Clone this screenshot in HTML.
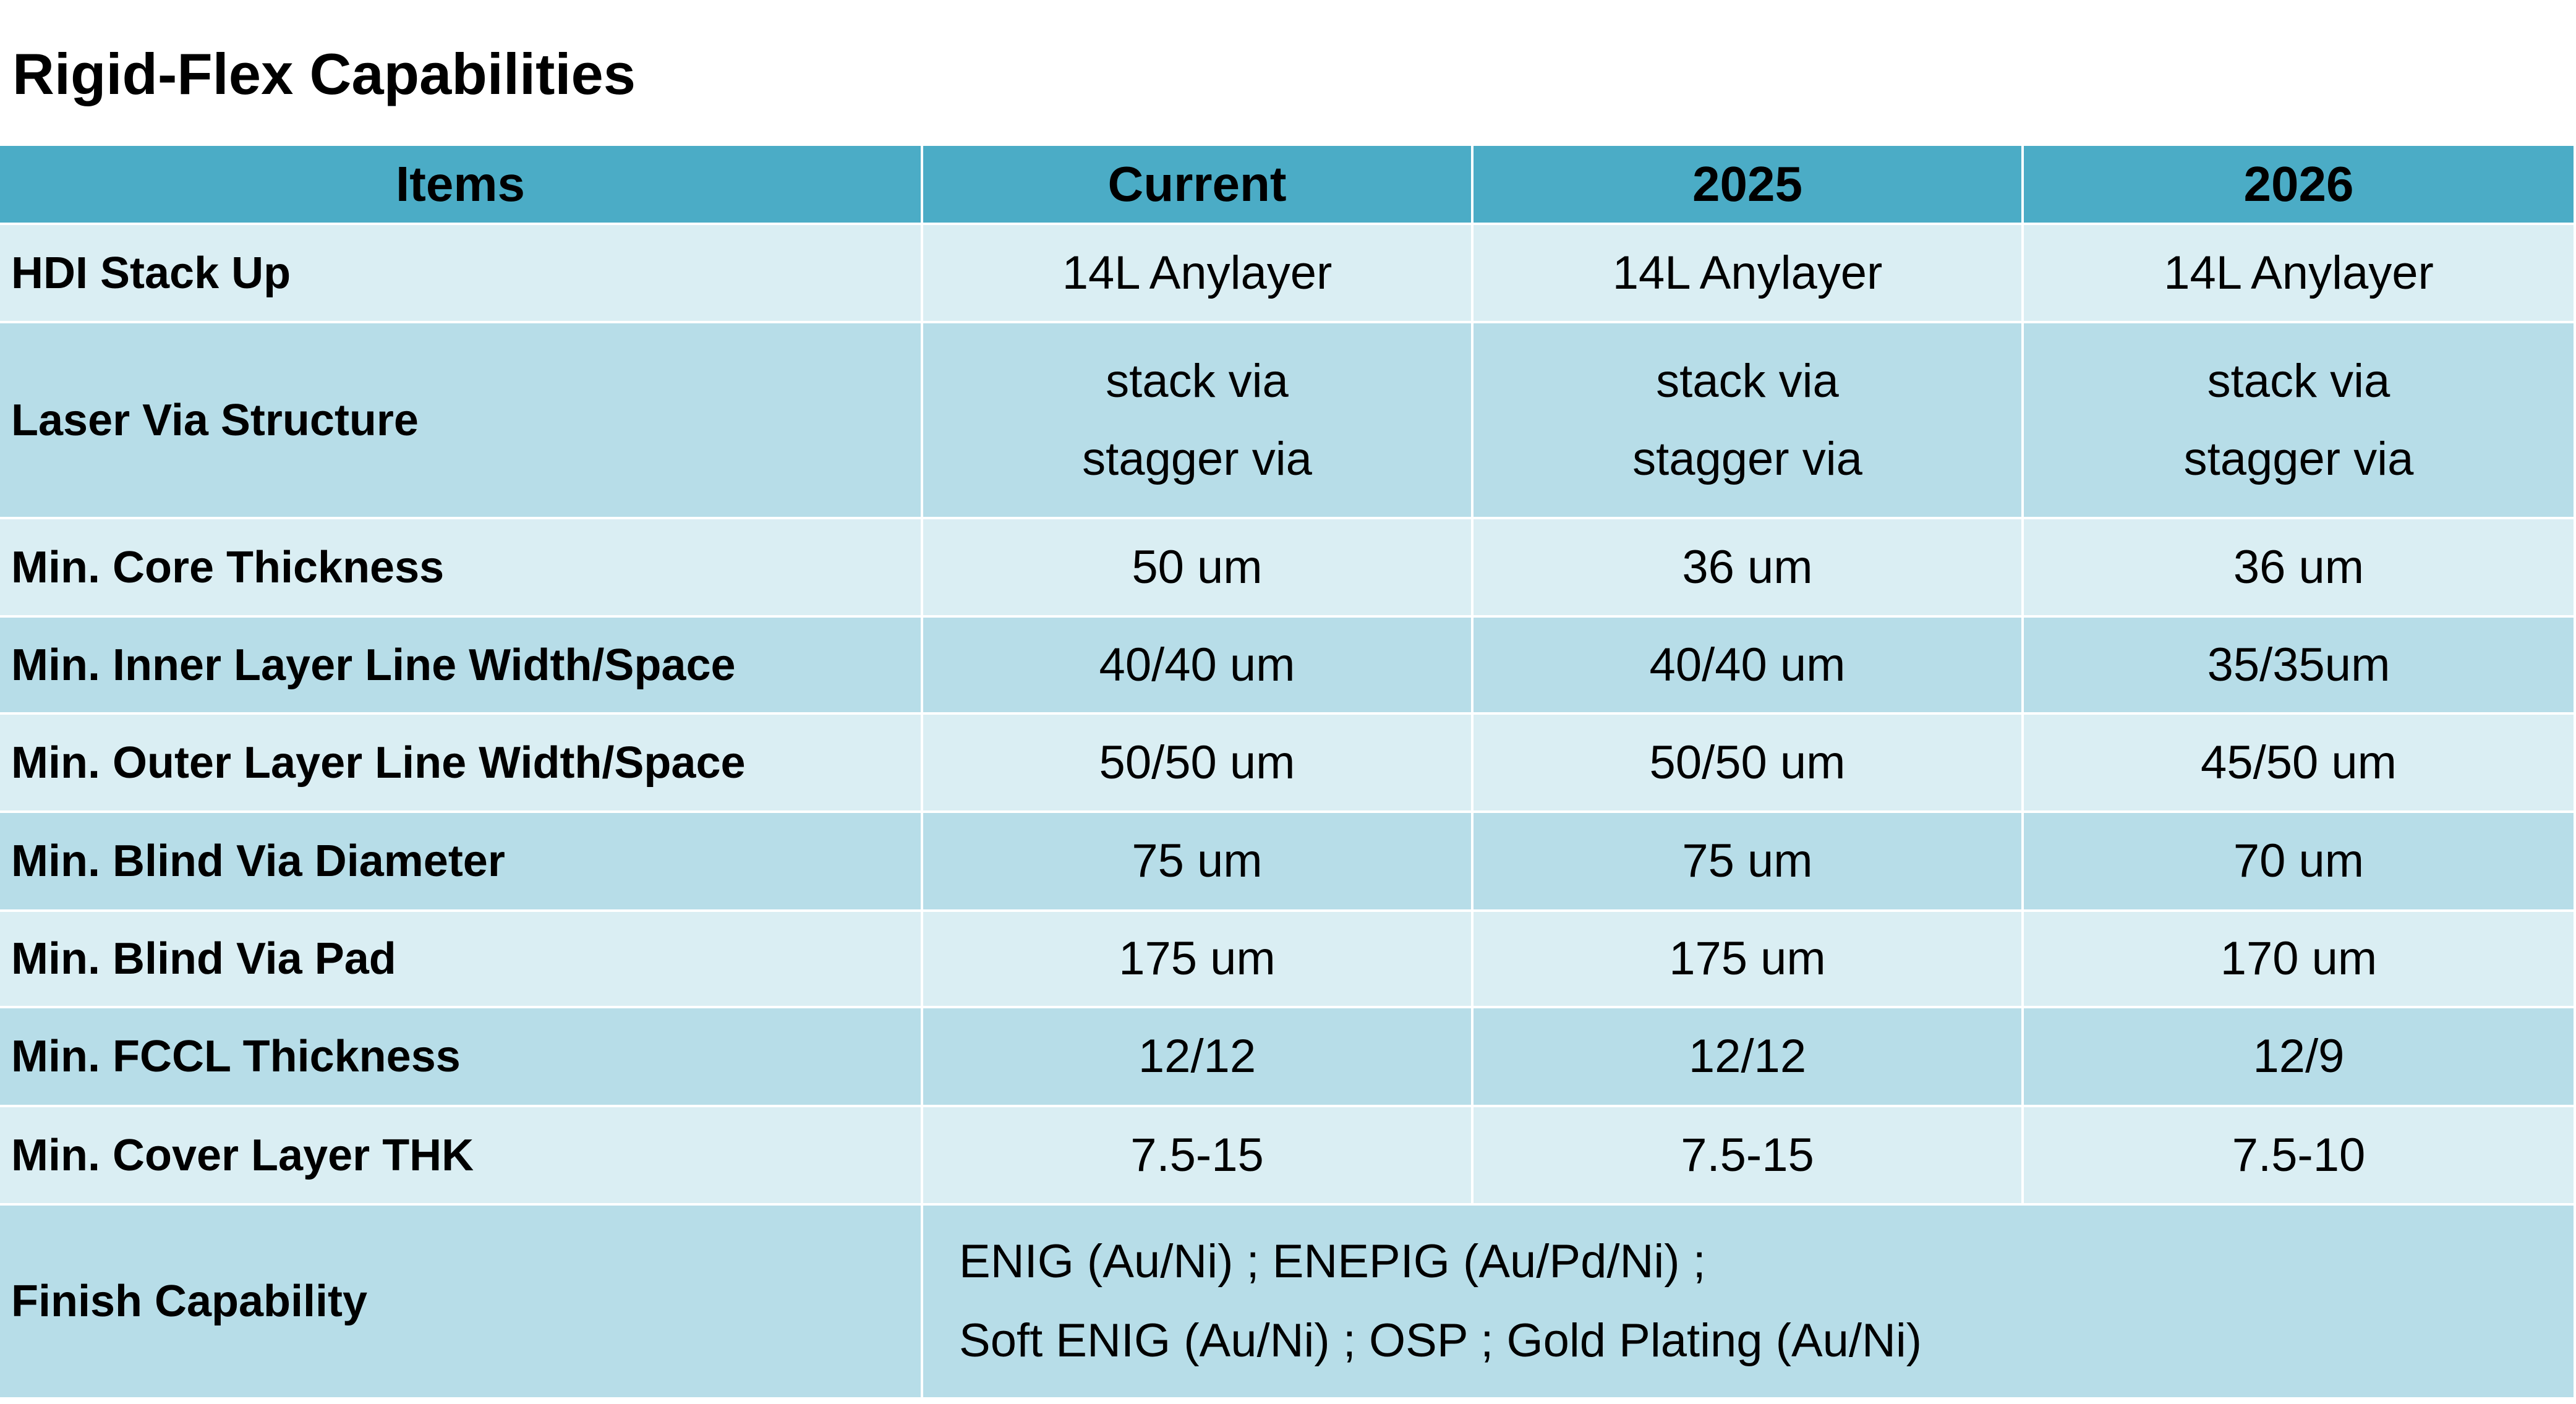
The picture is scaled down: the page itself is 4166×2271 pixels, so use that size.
<!DOCTYPE html>
<html><head><meta charset="utf-8"><style>
body{margin:0;width:4166px;height:2271px;background:#fff;overflow:hidden;font-family:"Liberation Sans",sans-serif;position:relative}
#title{position:absolute;left:20px;top:60px;font-size:94px;font-weight:bold;color:#000;line-height:120px}
.c{position:absolute;display:flex;align-items:center;justify-content:center;box-sizing:border-box;border-right:4px solid #fff;border-bottom:4px solid #fff;font-size:76px;color:#000;text-align:center;line-height:126px}
.h{background:#4BACC6;font-weight:bold;font-size:80px}
.l{justify-content:flex-start;padding-left:18px;font-weight:bold;font-size:72px}
.a{background:#DAEEF3}.b{background:#B7DDE8}
</style></head><body>
<div id="title">Rigid-Flex Capabilities</div>
<div id="tbl"></div>
<script>
const xs=[0,1493,2383,3273,4166];
const ys=[236,364,523,840,999,1156,1315,1475,1631,1791,1950,2264];
const header=["Items","Current","2025","2026"];
const rows=[
["HDI Stack Up","14L Anylayer","14L Anylayer","14L Anylayer"],
["Laser Via Structure","stack via<br>stagger via","stack via<br>stagger via","stack via<br>stagger via"],
["Min. Core Thickness","50 um","36 um","36 um"],
["Min. Inner Layer Line Width/Space","40/40 um","40/40 um","35/35um"],
["Min. Outer Layer Line Width/Space","50/50 um","50/50 um","45/50 um"],
["Min. Blind Via Diameter","75 um","75 um","70 um"],
["Min. Blind Via Pad","175 um","175 um","170 um"],
["Min. FCCL Thickness","12/12","12/12","12/9"],
["Min. Cover Layer THK","7.5-15","7.5-15","7.5-10"]
];
const tbl=document.getElementById('tbl');
function cell(x0,x1,y0,y1,cls,html,name){
 const d=document.createElement('div');
 d.className='c '+cls;
 d.style.left=x0+'px';d.style.top=y0+'px';d.style.width=(x1-x0)+'px';d.style.height=(y1-y0)+'px';
 d.innerHTML=html;
 
 
 tbl.appendChild(d);
}
header.forEach((t,i)=>cell(xs[i],xs[i+1],ys[0],ys[1],'h',t,'header-'+i));
rows.forEach((r,ri)=>{
 const bg=ri%2==0?'a':'b';
 r.forEach((t,ci)=>cell(xs[ci],xs[ci+1],ys[ri+1],ys[ri+2],bg+(ci==0?' l':''),t,ci==0?'row-label-'+ri:'cell-'+ri+'-'+ci));
});
cell(xs[0],xs[1],ys[10],ys[11],'b l','Finish Capability','row-label-finish');
cell(xs[1],xs[4],ys[10],ys[11],'b','<div style="text-align:left;width:100%;padding-left:58px;line-height:128px">ENIG (Au/Ni) ; ENEPIG (Au/Pd/Ni) ;<br>Soft ENIG (Au/Ni) ; OSP ; Gold Plating (Au/Ni)</div>','finish-values');
</script>
</body></html>
